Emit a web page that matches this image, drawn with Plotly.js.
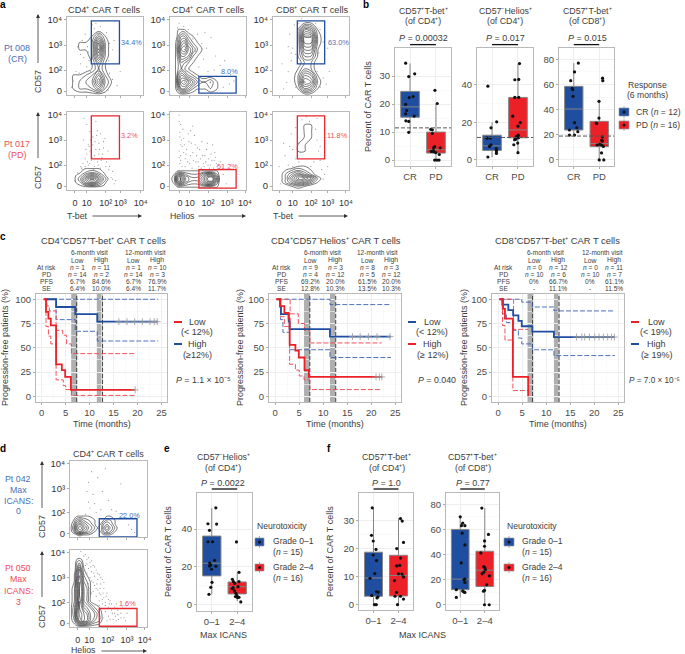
<!DOCTYPE html>
<html><head><meta charset="utf-8">
<script src="https://cdn.plot.ly/plotly-3.0.1.min.js"></script>
<style>html,body{margin:0;padding:0;background:#fff}</style></head>
<body><div id="chart" style="width:685px;height:654px"></div>
<script>
// ---------- values ----------
const flowGrid=[0,8.33,16.67,25,33.33,41.67,50,58.33,66.67,75,83.33,91.67,100];
const flowRows=flowGrid.slice().reverse();
const zero13="0000000000000", zero15="000000000000000";
// density tables, top row first
const a1Density=[zero13,zero13,zero13,"0000141000000","0011282000000","0011292000000","0000272000000","0000141000000","0000131000000","0112362000000","0123483100000","0122352000000",zero13];
const a2Cols=[0,8,11,15,19,24,30,36,42,47,53,60,100];
const a2Density=[zero13,zero13,"0011100000000","0024421000000","0136742100000","0148964210000","0136652100000","0124321000000","0123210000000","0146532100000","0158975322310","0136642111210",zero13];
const a3Density=[zero13,"0000011000000","0000165100000","0000199200000","0000188200000","0000166100000","0000144100000","0000022000000","0000132000000","0000265100000","0000287200000","0000154100000",zero13];
const a4Cols=[0,12,18,24,30,36,42,48,54,60,70,80,100], a4Rows=[100,32,27,22,18,14,10,6,3,0];
const a4Density=[zero13,zero13,"0001111000000","0012332100000","0124664200000","0136996310000","0125774200000","0012332100000",zero13,zero13];
const a5Cols=[0,6,10,14,20,28,36,44,50,56,62,66,100], a5Rows=[100,30,24,20,16,12,8,4,0];
const a5Density=[zero13,zero13,"0011111111100","0145322465200","0279533699400","0279533699400","0145322465200","0011111111100",zero13];
const a6Rows=[100,92,83,75,67,58,50,42,36,30,25,20,15,10,5,0];
const a6Density=[zero13,zero13,"0000011000000","0000011000000","0000011000000","0000110000000","0000110000000",zero13,zero13,"0000110000000","0012321000000","0024642000000","0026986200000","0024653100000","0001210000000",zero13];
const d1Cols=[0,5,9,13,17,24,32,36,40,44,48,52,58,64,100], d1Rows=[100,32,27,22,17,12,7,3,0];
const d1Density=[zero15,zero15,"001111000011000","013432100122100","025753101343100","037974211464200","025753101343100","001211000111000",zero15];
const d2Cols=[0,6,9,12,15,18,22,26,32,38,44,60,100];
const d2Density=[zero13,zero13,"0023200000000","0036310000000","0147521000000","0158632100000","0258743100000","0258743100000","0259743100000","0369865421000","0379987542000","0258987532000",zero13];
const a1Dots=[14,62,20,70,24,78,28,55,30,72,22,48,18,40,26,36,31,30,36,85,44,88,52,80,56,66,60,58,55,44,62,70,48,30,56,28,60,20,66,12,70,30,12,30,16,28,8,18,6,10,10,6,24,4,30,3,46,4,54,6,18,52,34,46,33,90,38,92,27,62,29,44];
const a2Dots=[12,92,18,88,24,84,30,72,36,78,42,66,48,60,54,74,60,50,66,38,44,46,38,36,72,44,50,30,58,32,30,48,34,56,10,86,80,26,70,10,78,14,84,18,62,24,46,80,8,70,22,42];
const a3Dots=[22,78,26,60,24,44,20,30,18,16,14,8,28,90,30,52,62,84,66,68,60,54,64,40,58,30,66,22,70,14,34,92,56,92,28,22,30,10,62,10,24,54,72,60,74,30,38,98,20,62,12,40];
const a4Dots=[22,92,26,84,30,75,34,68,38,88,42,60,44,72,48,54,30,50,36,44,40,36,24,40,28,32,46,42,52,36,56,30,60,24,18,30,14,22,34,58,50,66,38,52,42,46,32,38,36,30,44,28,48,62,54,50,28,58,22,64,26,46,64,12,62,8,10,12,20,26,40,76,30,34,33,42,35,26,41,32,37,62,29,56,43,52,45,38,25,52,27,36,39,70,31,64,47,46,51,30,55,26,21,34,19,28,58,16,60,14,24,30];
const a5Dots=[12,96,14,84,13,74,15,64,16,56,18,48,20,40,12,50,14,38,24,72,28,60,30,48,34,36,38,30,42,62,46,44,50,32,54,46,58,38,62,30,26,34,18,66,22,52,32,70,36,54,40,40,44,34,48,52,52,28,56,58,60,42,66,26,70,20,74,8,30,82,20,30,16,30,14,44,66,36,12,88,13,68,14,58,12,42,13,34,17,78,19,58,21,46,23,36,27,44,29,28,31,38,33,58,35,44,37,36,39,52,41,28,43,44,45,30,47,36,49,60,51,40,53,32,55,38,57,28,59,48,61,34,63,26,25,62,27,76];
const a6Dots=[14,60,16,44,20,32,24,72,26,52,30,40,30,80,34,60,36,48,38,90,44,94,48,88,56,78,58,64,60,50,62,38,64,26,66,14,68,20,12,14,10,8,28,28,54,36,50,30,34,36,22,56,26,30,62,56,72,30,58,92,8,30];
const d1Dots=[24,72,30,56,32,44,26,38,36,78,42,60,46,90,50,48,54,36,60,34,66,70,28,86,24,46,40,36,20,30,70,30,76,16,80,10,84,6,22,60,34,32];
const d2Dots=[14,98,18,92,22,88,26,84,30,80,34,74,38,68,42,62,16,86,20,80,24,76,28,72,32,66,36,62,40,56,44,50,48,44,28,60,32,54,36,48,40,42,44,38,30,46,34,40,38,34,24,56,26,50,28,44,42,30,46,28,50,26,54,22,58,18,62,16,66,12,56,10,60,8,50,14,52,34,60,30,68,26,74,18,46,20,44,12,38,28,72,8,20,94,24,90,28,86,32,78,36,70,40,64,44,58,18,74,22,70,26,64,30,58,34,50,38,44,42,36,46,32,50,36,54,30,58,26,62,22,22,82,27,78,31,70,35,56,39,50,43,44,47,40,51,30,55,18,59,14,63,10,66,18,70,12,48,8,52,10];
const gateA1=[32,69,40,95], gateA2=[38,87,2.5,24], gateA3=[32,68,40,95];
const gateA4=[32,69,40,95], gateA5=[38,87,2.5,26], gateA6=[32,68,40,95];
const gateD1=[38,87,0,24], gateD2=[38,87,1,24];
const flowY=[5,32,64,97], flowYText=["0","10²","10³","10⁴"];
const flowXText=["0","10","10²","10³","10⁴"];
const flowX1=[10.5,26,51,70,97], flowX2=[13,26,50,75,98.7], flowX3=[8,26,50,72,96], flowXd=[10,25,49,74,97];

const b1Ticks=[0,10,20,30], b2Ticks=[0,20,40], b3Ticks=[0,20,40,60,80];
const groupsB=["CR","PD"], groupsE=["0–1","2–4"];
const b1CR=[15.3,19,24.5,10,34.5], b1PD=[2.5,3.7,10,0,20];
const b2CR=[5.1,7.5,13.2,1.5,20], b2PD=[11.8,16,33.3,4,51];
const b3CR=[23.8,40.5,58.5,20,77], b3PD=[10.6,13,30.7,0,46.6];
const b1CRx=[-.17,.18,-.05,.12,-.03,-.17,-.13,-.17,.16,-.16,-.05,-.05], b1CRy=[34.6,30.8,29.8,22.7,22.3,19.9,17.7,16.5,15.7,14,13.8,9.9];
const b1PDx=[-.04,.05,-.2,-.14,-.14,-.05,-.09,.16,-.18,-.09,-.01,.13,-.05,.04,.12,-.1], b1PDy=[24.9,20.2,11,10.8,9.5,4.8,4.4,4.4,3.1,3,2.7,2,0,0,0,3.4];
const b2CRx=[-.16,.18,-.04,-.2,-.07,-.04,-.1,.16,.17,.17,.17,-.16], b2CRy=[39.3,20.3,17.1,11.6,11.6,8.1,7.2,6,5.1,4.2,3.5,1.6];
const b2PDx=[.06,-.12,.03,-.12,.03,-.2,.09,0,.01,-.06,-.13,-.08,-.01,-.16,0,.02], b2PDy=[51.3,42.7,42.9,33.3,33.3,23.3,19.9,18,13.2,12.5,10.8,11.1,9,8.1,3.9,11.9];
const b3CRx=[.18,.03,-.12,-.06,-.04,-.03,.03,.12,-.17,.16,-.17,.03], b3CRy=[77,70,63,57,55.8,50.5,29.6,25.6,23.8,22.5,19.8,19.8];
const b3PDx=[.13,.14,-.01,-.01,-.12,-.1,.12,.1,-.08,.09,.16,.09,0,.18,.12,.02], b3PDy=[65,63,46.6,33.3,29.4,29,18.3,15.6,11.9,11.9,10.8,5.6,0,0,15,12.5];

const kmX=[0,5,10,15,20,25], kmY=[0,25,50,75,100];
const c1LowX=[.4,.9,1.4,1.9,3,4.2,4.9,6.1,19.5], c1LowY=[100,87,80,73,33,27,20,6.7,6.7];
const c1LowUpX=[.4,1.1,1.6,3,4.4,5.2,6.2,19.5], c1LowUpY=[100,93,88,68,63,54,44,44];
const c1LowDnX=[.4,.9,1.4,1.9,3,4.5,5,6.2,19.5], c1LowDnY=[100,72,62,54,17,11,7,1,1];
const c1HighX=[.7,3,7,11.6,24.3], c1HighY=[100,92,84.6,76.9,76.9];
const c1HighUpX=[.7,24.3], c1HighUpY=[100,100];
const c1HighDnX=[.7,3,7,11.6,24.3], c1HighDnY=[100,79,67,57,57];
const c1CensorHigh=[16.1,17.8,19.4,21,22.6,23.5,24.1], c1CensorLow=[19.5];
const c2LowX=[.5,1,1.2,2.8,3,11.4,24.1], c2LowY=[100,92.3,84.6,76.9,69.2,61.5,61.5];
const c2LowUpX=[.5,11.4,24.1], c2LowUpY=[100,94.5,94.5];
const c2LowDnX=[.5,1.1,1.6,3,11.4,24.1], c2LowDnY=[100,79,66,48,40,40];
const c2HighX=[.2,1.1,1.9,2.8,3,4.2,4.9,6.1,7,22.2], c2HighY=[100,93,86,80,53,47,40,27,20,20];
const c2HighUpX=[.2,3.1,4.8,6.1,7.2,22.2], c2HighUpY=[100,85,75,68,55,55];
const c2HighDnX=[.2,1.1,1.9,3,4.2,5,6,7.2,22.2], c2HighDnY=[100,82,72,33,27,21,17,7,7];
const c2CensorLow=[16.1,17.7,19.4,21.2,23.9], c2CensorHigh=[21,21.7,22.2];
const c3HighX=[.5,.85,2.1,3.1,4.2,4.9,7.1,11.6,24.3], c3HighY=[100,94.4,88.9,83.3,77.8,72.2,66.7,61.1,61.1];
const c3HighUpX=[.5,4.9,7.1,11.6,24.3], c3HighUpY=[100,97,92,88,88];
const c3HighDnX=[.5,.85,1.7,3.1,4.2,4.9,7.1,11.6,24.3], c3HighDnY=[100,85,76,68,60,54,48,42,42];
const c3LowX=[.2,1,1.4,3.05,6.25,6.25], c3LowY=[100,90,80,20,0,0];
const c3LowUpX=[.2,3.2,6.25], c3LowUpY=[100,69,69];
const c3LowDnX=[.2,.9,1.4,3.05,6.25], c3LowDnY=[100,73,58,6,6];
const c3CensorHigh=[16.3,17.4,18,19,20.1,21,21.9,22.8,23.6,24.2];

const e1Ticks=[0,20,40], f1Ticks=[0,10,20,30], f2Ticks=[0,20,40,60,80];
const eLow=[15.3,22,36.3,5.5,51], eHigh=[5.8,9.6,12.1,2,17];
const f1Low=[3,9.5,18.7,0,34.5], f1High=[3.1,10.4,17.6,0,30.8];
const f2Low=[12,20.4,60,5.8,70], f2High=[14.5,27.5,42.6,0,77];
const eLowX=[.16,-.15,.19,-.09,-.15,.03,.11,-.08,-.04,.16,-.09,-.01,.01,-.04,-.11], eLowY=[51.2,42.8,42.6,39.3,33.3,33.3,23.5,22.1,21,20.4,20.5,18.8,11.9,9.3,5.6];
const eHighX=[-.03,.07,-.19,-.15,.07,-.1,.03,-.2,-.11,-.05,-.01,.01,-.07,.07,.14,-.16], eHighY=[33.2,17.2,13.5,12.3,12.3,11.4,9.6,8.6,7.4,6.1,4.9,3.9,4.4,4,1.6,9.1];
const f1LowX=[-.05,-.08,-.01,.1,-.01,.12,.05,-.14,.12,.19,-.07,.18,.14,.04,.11], f1LowY=[34.5,24.7,22.7,19.7,17.7,15.7,11.1,9.4,4.6,4.5,3.3,2.8,2.4,0,0];
const f1HighX=[.08,.15,.2,-.07,.08,.05,-.07,.14,.2,-.16,-.08,-.14,.08,.2,-.04,.0], f1HighY=[30.7,29.8,22.2,20,16.6,14,13.8,10.9,9.9,8.6,4.4,3,3,2,0,11];
const f2LowX=[0,.1,.05,.19,.08,.19,.04,.19,.15,.19,-.16,.1,.14,.19,-.16], f2LowY=[70,65,63,63,57,47.6,33.3,20.4,19.8,17.7,12,11,10.3,9.8,5.8];
const f2HighX=[-.12,.15,-.01,-.01,-.16,-.04,0,-.04,-.11,.19,.08,-.01,-.05,-.01,.18,.03], f2HighY=[77,56,50.8,46.6,41.3,30.4,29.6,25.9,24.6,23,15.9,11.4,10.8,0,0,28];

const W=685,H=654,BLUE="#1f4ea1",RED="#ec2027",LBLUE="#4a70b8",LRED="#ef4c56",FRAME="#b9b9b9",TXT="#3c3c3c",FONT="Liberation Sans, Arial, sans-serif";
const traces=[],ann=[],shapes=[];
const layout={width:W,height:H,margin:{l:0,r:0,t:0,b:0},paper_bgcolor:"#fff",plot_bgcolor:"#fff",showlegend:false,hovermode:false,font:{family:FONT,color:TXT,size:9},annotations:ann,shapes:shapes};
let axN=0;
const px=x=>x/W, py=y=>1-y/H;
function T(text,x,y,o={}){ann.push({text,x:px(x),y:py(y),xref:"paper",yref:"paper",showarrow:false,xanchor:o.a||"center",yanchor:"middle",textangle:o.rot||0,font:{family:FONT,size:o.s||9.5,color:o.c||TXT}});}
function arrow(x0,y0,x1,y1){ann.push({text:" ",x:px(x1),y:py(y1),xref:"paper",yref:"paper",ax:x0-x1,ay:y0-y1,axref:"pixel",ayref:"pixel",showarrow:true,arrowhead:2,arrowsize:1,arrowwidth:.8,arrowcolor:"#333",font:{size:1}});}
function addAxes(x0,x1,y0,y1,xa,ya){axN++;const s=axN===1?"":axN;
  const base={showline:true,mirror:true,linecolor:FRAME,linewidth:1,zeroline:false,ticks:"outside",ticklen:2,tickwidth:.7,tickcolor:"#888",tickangle:0,tickfont:{family:FONT,size:9.5,color:"#4a4a4a"},tickmode:"array"};
  layout["xaxis"+s]=Object.assign({},base,{domain:[px(x0),px(x1)],anchor:"y"+s},xa);
  layout["yaxis"+s]=Object.assign({},base,{domain:[py(y1),py(y0)],anchor:"x"+s},ya);
  return {x:"x"+s,y:"y"+s};}
function flow(box,density,dots,gate,gcolor,xt,showX,cols,rows){
  cols=cols||flowGrid;rows=rows||flowRows;
  const a=addAxes(box[0],box[1],box[2],box[3],{range:[0,100],tickvals:xt,ticktext:flowXText,showticklabels:showX,ticklabelstandoff:2,showgrid:false,tickfont:{family:FONT,size:9,color:"#333"}},{range:[0,100],tickvals:flowY,ticktext:flowYText,showgrid:false,tickfont:{family:FONT,size:9.5,color:"#333"}});
  const dx=dots.filter((_,i)=>i%2===0),dy=dots.filter((_,i)=>i%2===1);
  traces.push({type:"scatter",mode:"markers",x:dx,y:dy,xaxis:a.x,yaxis:a.y,marker:{size:1.2,color:"#999"}});
  traces.push({type:"contour",x:cols,y:rows.slice().reverse(),z:density.slice().reverse().map(r=>[...r].map(Number)),xaxis:a.x,yaxis:a.y,autocontour:false,contours:{coloring:"none",start:.9,end:9.5,size:1},line:{color:"#222",width:.6,smoothing:1},showscale:false});
  shapes.push({type:"rect",xref:a.x,yref:a.y,x0:gate[0],x1:gate[1],y0:gate[2],y1:gate[3],line:{color:gcolor,width:1.3}});
}
function boxPanel(box,yr,yt,xr,labels,s1,s2,p1,p2,hline){
  const a=addAxes(box[0],box[1],box[2],box[3],{range:xr,tickvals:[0,1],ticktext:labels,showgrid:true,gridcolor:"#eeeeee"},{range:yr,tickvals:yt,ticktext:yt.map(String),showgrid:true,gridcolor:"#eeeeee",minor:{showgrid:true,gridcolor:"#f5f5f5",gridwidth:.6,tickvals:yt.slice(0,-1).map((v,i)=>(v+yt[i+1])/2),ticks:""}});
  [[s1,BLUE,0],[s2,RED,1]].forEach(([s,c,pos])=>traces.push({type:"box",x:[pos],q1:[s[0]],median:[s[1]],q3:[s[2]],lowerfence:[s[3]],upperfence:[s[4]],width:.72,whiskerwidth:0,fillcolor:c,line:{color:"#858585",width:1},boxpoints:false,xaxis:a.x,yaxis:a.y}));
  [[p1,0],[p2,1]].forEach(([p,pos])=>traces.push({type:"scatter",mode:"markers",x:p[0].map(v=>v+pos),y:p[1],xaxis:a.x,yaxis:a.y,marker:{size:3.2,color:"#111"}}));
  if(hline!==undefined) traces.push({type:"scatter",mode:"lines",x:xr,y:[hline,hline],xaxis:a.x,yaxis:a.y,line:{color:"#555",width:1,dash:"4px,2px"}});
  return a;}
function sig(a,y){shapes.push({type:"line",xref:a.x,yref:"paper",x0:0,x1:1,y0:py(y),y1:py(y),line:{color:"#111",width:1.3}});}
function swatch(x0,x1,y0,y1,c){
  const xm=(x0+x1)/2,ym=(y0+y1)/2;
  shapes.push({type:"line",xref:"paper",yref:"paper",x0:px(xm),x1:px(xm),y0:py(y0-2),y1:py(y1+2),line:{color:"#999",width:.8}});
  shapes.push({type:"rect",xref:"paper",yref:"paper",x0:px(x0),x1:px(x1),y0:py(y0),y1:py(y1),fillcolor:c,line:{color:"#999",width:.7}});
  shapes.push({type:"circle",xref:"paper",yref:"paper",x0:px(xm-1.5),x1:px(xm+1.5),y0:py(ym-1.5),y1:py(ym+1.5),fillcolor:"#111",line:{width:0}});
}
function km(box,r0,series,bands,dash){
  const a=addAxes(box[0],box[1],box[2],box[3],{range:r0,tickvals:kmX,ticktext:kmX.map(String),showgrid:true,gridcolor:"#eeeeee",minor:{showgrid:true,gridcolor:"#f6f6f6",gridwidth:.6,tickvals:[2.5,7.5,12.5,17.5,22.5],ticks:""}},{range:[-5.8,105.4],tickvals:kmY,ticktext:kmY.map(String),showgrid:true,gridcolor:"#eeeeee",minor:{showgrid:true,gridcolor:"#f6f6f6",gridwidth:.6,tickvals:[12.5,37.5,62.5,87.5],ticks:""}});
  bands.forEach(b=>shapes.push({type:"rect",xref:a.x,yref:"y"+a.y.slice(1)+" domain",x0:b[0],x1:b[1],y0:0,y1:1,fillcolor:"#aeb0b0",line:{width:0},layer:"below"}));
  dash.forEach(v=>traces.push({type:"scatter",mode:"lines",x:[v,v],y:[-5.8,105.4],xaxis:a.x,yaxis:a.y,line:{color:"#444",width:1,dash:"4px,2px"}}));
  series.forEach(s=>{
    if(s.ci) traces.push({type:"scatter",mode:"lines",x:s.x,y:s.y,xaxis:a.x,yaxis:a.y,line:{shape:"hv",color:s.c,width:.9,dash:"5px,2px"}});
    else traces.push({type:"scatter",mode:"lines",x:s.x,y:s.y,xaxis:a.x,yaxis:a.y,line:{shape:"hv",color:s.c,width:1.8}});
    if(s.cen) traces.push({type:"scatter",mode:"markers",x:s.cen,y:s.cen.map(()=>s.y[s.y.length-1]),xaxis:a.x,yaxis:a.y,marker:{symbol:"cross-thin-open",size:5,color:"#999",line:{color:"#999",width:.8}}});
  });
  return a;}
function kmHead(title,tx,vis,cols,atx,rows){
  T(title,tx,240,{s:9.4});
  T("6-month visit",vis[0],252,{s:6.5}); T("12-month visit",vis[1],252,{s:6.5});
  cols.forEach((c,i)=>T(i%2?"High":"Low",c,260,{s:6.8}));
  ["At risk","PD","PFS","SE"].forEach((r,i)=>T(r,atx,267+i*7,{s:6.6}));
  rows.forEach((row,i)=>row.forEach((v,j)=>T(v,cols[j],267+i*7,{s:6.6})));
}
const N=v=>"<i>n</i> = "+v;

T("<b>a</b>",3,4,{s:10,c:"#000"});
["CD4⁺ CAR T cells","CD4⁺ CAR T cells","CD8⁺ CAR T cells"].forEach((t,i)=>T(t,[104,208,312][i],10,{s:9.2}));
flow([67,143,17,95],a1Density,a1Dots,gateA1,BLUE,flowX1,false);
flow([170,246,17,95],a2Density,a2Dots,gateA2,BLUE,flowX2,false,a2Cols);
flow([273,349,17,95],a3Density,a3Dots,gateA3,BLUE,flowX3,false);
flow([67,143,112,190],a4Density,a4Dots,gateA4,"#e8262d",flowX1,true,a4Cols,a4Rows);
flow([170,246,112,190],a5Density,a5Dots,gateA5,"#e8262d",flowX2,true,a5Cols,a5Rows);
flow([273,349,112,190],a6Density,a6Dots,gateA6,"#e8262d",flowX3,true,flowGrid,a6Rows);
T("34.4%",131,42,{s:7.3,c:LBLUE});T("8.0%",229,71,{s:7.3,c:LBLUE});T("63.0%",338,42,{s:7.3,c:LBLUE});
T("3.2%",129,136,{s:7.3,c:LRED});T("51.2%",227,166,{s:7.3,c:LRED});T("11.8%",337,136,{s:7.3,c:LRED});
T("Pt 008",17,48,{c:LBLUE,s:9});T("(CR)",17,59,{c:LBLUE,s:9});T("Pt 017",17,144,{c:LRED,s:9});T("(PD)",17,155,{c:LRED,s:9});
T("CD57",38,82,{rot:-90,s:9});T("CD57",38,178,{rot:-90,s:9});
arrow(38,65,38,14);arrow(38,160,38,112);
T("T-bet",77,216,{s:8.8});arrow(91,216,142,216);
T("Helios",183,216,{s:8.8});arrow(197,216,246,216);
T("T-bet",283,216,{s:8.8});arrow(297,216,348,216);

T("<b>b</b>",366,4,{s:10,c:"#000"});
const bX=[-.58,1.58];
const b1=boxPanel([395,451,48,166],[-2.1,40],b1Ticks,bX,groupsB,b1CR,b1PD,[b1CRx,b1CRy],[b1PDx,b1PDy],11.5);
const b2=boxPanel([477,533,48,166],[-3.2,59.6],b2Ticks,bX,groupsB,b2CR,b2PD,[b2CRx,b2CRy],[b2PDx,b2PDy],12);
const b3=boxPanel([559,614,48,166],[-4.8,89],b3Ticks,bX,groupsB,b3CR,b3PD,[b3CRx,b3CRy],[b3PDx,b3PDy],19);
[b1,b2,b3].forEach(a=>sig(a,44.6));
[[423,"CD57⁺T-bet⁺","(of CD4⁺)","<i>P</i> = 0.00032"],[505,"CD57⁻Helios⁺","(of CD4⁺)","<i>P</i> = 0.017"],[587,"CD57⁺T-bet⁺","(of CD8⁺)","<i>P</i> = 0.015"]].forEach(r=>{T(r[1],r[0],11,{s:8.8});T(r[2],r[0],21,{s:8.8});T(r[3],r[0],38,{s:9});});
T("Percent of CAR T cells",368,107,{rot:-90,s:9});
T("Response",647,85,{s:8.6});T("(6 months)",647,95,{s:8.6});
swatch(619,629,108,116,BLUE);swatch(619,629,121,129,RED);
T("CR (<i>n</i> = 12)",634,112,{a:"left",s:8.6});T("PD (<i>n</i> = 16)",634,125,{a:"left",s:8.6});

T("<b>c</b>",3,237,{s:10,c:"#000"});
km([36,167,294,402],[-1.19,26.15],[
 {x:c1HighUpX,y:c1HighUpY,c:"#3b62b5",ci:1},{x:c1HighDnX,y:c1HighDnY,c:"#3b62b5",ci:1},
 {x:c1LowUpX,y:c1LowUpY,c:"#f0414b",ci:1},{x:c1LowDnX,y:c1LowDnY,c:"#f0414b",ci:1},
 {x:c1HighX,y:c1HighY,c:BLUE,cen:c1CensorHigh},{x:c1LowX,y:c1LowY,c:RED,cen:c1CensorLow}],[[6.15,7.4],[11.5,12.75]],[7.3,12.7]);
kmHead("CD4⁺CD57⁺T-bet⁺ CAR T cells",103,[89,145],[77,101,133,157],46,[
 [N(1),N(11),N(1),N(10)],[N(14),N(2),N(14),N(3)],["6.7%","84.6%","6.7%","76.9%"],["6.4%","10.0%","6.4%","11.7%"]]);
km([269,401,294,402],[-1.3,26.2],[
 {x:c2LowUpX,y:c2LowUpY,c:"#3b62b5",ci:1},{x:c2LowDnX,y:c2LowDnY,c:"#3b62b5",ci:1},
 {x:c2HighUpX,y:c2HighUpY,c:"#f0414b",ci:1},{x:c2HighDnX,y:c2HighDnY,c:"#f0414b",ci:1},
 {x:c2LowX,y:c2LowY,c:BLUE,cen:c2CensorLow},{x:c2HighX,y:c2HighY,c:RED,cen:c2CensorHigh}],[[6,7.25],[11.4,12.65]],[7.2,12.6]);
kmHead("CD4⁺CD57⁻Helios⁺ CAR T cells",336,[322,377],[310,335,367,391],281,[
 [N(9),N(3),N(8),N(3)],[N(4),N(12),N(5),N(12)],["69.2%","20.0%","61.5%","20.0%"],["12.8%","10.3%","13.5%","10.3%"]]);
km([492,624,294,402],[-1.3,26.2],[
 {x:c3HighUpX,y:c3HighUpY,c:"#3b62b5",ci:1},{x:c3HighDnX,y:c3HighDnY,c:"#3b62b5",ci:1},
 {x:c3LowUpX,y:c3LowUpY,c:"#f0414b",ci:1},{x:c3LowDnX,y:c3LowDnY,c:"#f0414b",ci:1},
 {x:c3HighX,y:c3HighY,c:BLUE,cen:c3CensorHigh},{x:c3LowX,y:c3LowY,c:RED}],[[6.1,7.3],[11.6,12.75]],[7.15,12.65]);
kmHead("CD8⁺CD57⁺T-bet⁺ CAR T cells",557,[545,602],[534,558,590,614],503,[
 [N(0),N(12),N(0),N(11)],[N(10),N(6),N(10),N(7)],["0%","66.7%","0%","61.1%"],["-","11.1%","-","11.5%"]]);
[[5,102],[240,335],[464,558]].forEach(p=>{T("Progression-free patients (%)",p[0],348,{rot:-90,s:9});T("Time (months)",p[1],424,{s:9});});
function kmLegend(sx,lx,c1,c2,t1,t2,t3,t4,pText,pX,ps){
  [[322,c1],[344,c2]].forEach(([y,c])=>shapes.push({type:"line",xref:"paper",yref:"paper",x0:px(sx),x1:px(sx+8),y0:py(y),y1:py(y),line:{color:c,width:2}}));
  T(t1,lx,322,{s:9});T(t2,lx,332,{s:9});T(t3,lx,344,{s:9});T(t4,lx,355,{s:9});
  T(pText,pX,380,{a:"left",s:ps||8.8});
}
kmLegend(174,197,RED,BLUE,"Low","(&lt; 12%)","High","(≥12%)","<i>P</i> = 1.1 × 10⁻⁵",174);
kmLegend(408,432,BLUE,RED,"Low","(&lt; 12%)","High","(≥ 12%)","<i>P</i> = 0.040",416);
kmLegend(631,656,RED,BLUE,"Low","(&lt; 19%)","High","(≥ 19%)","<i>P</i> = 7.0 × 10⁻⁵",627,8.2);

T("<b>d</b>",3,448,{s:10,c:"#000"});
T("CD4⁺ CAR T cells",108,454,{s:9});
flow([70,147,461,537],d1Density,d1Dots,gateD1,BLUE,flowXd,false,d1Cols,d1Rows);
flow([70,147,550,627],d2Density,d2Dots,gateD2,"#e8262d",flowXd,true,d2Cols);
T("22.0%",129,515,{s:7.3,c:LBLUE});T("1.6%",127,603,{s:7.3,c:LRED});
["Pt 042","Max","ICANS:","0"].forEach((t,i)=>T(t,18,[479,490,501,511][i],{c:LBLUE,s:8.8}));
["Pt 050","Max","ICANS:","3"].forEach((t,i)=>T(t,18,[568,579,591,602][i],{c:LRED,s:8.8}));
T("CD57",42,527,{rot:-90,s:9});T("CD57",42,617,{rot:-90,s:9});
arrow(42,510,42,461);arrow(42,599,42,551);
T("Helios",83,650,{s:8.8});arrow(100,651,147,651);

T("<b>e</b>",167,448,{s:10,c:"#000"});T("<b>f</b>",329,448,{s:10,c:"#000"});
const e1=boxPanel([197,252,493,611],[-3.2,59],e1Ticks,bX,groupsE,eLow,eHigh,[eLowX,eLowY],[eHighX,eHighY]);
const f1=boxPanel([359,413,493,610],[-1.9,39.8],f1Ticks,bX,groupsE,f1Low,f1High,[f1LowX,f1LowY],[f1HighX,f1HighY]);
const f2=boxPanel([446,499,493,610],[-4.2,89],f2Ticks,bX,groupsE,f2Low,f2High,[f2LowX,f2LowY],[f2HighX,f2HighY]);
[e1,f1,f2].forEach(a=>sig(a,489));
[[223,"CD57⁻Helios⁺","(of CD4⁺)","<i>P</i> = 0.0022"],[387,"CD57⁺T-bet⁺","(of CD4⁺)","<i>P</i> = 1.0"],[473,"CD57⁺T-bet⁺","(of CD8⁺)","<i>P</i> = 0.77"]].forEach(r=>{T(r[1],r[0],457,{s:8.8});T(r[2],r[0],468,{s:8.8});T(r[3],r[0],483,{s:9});});
T("Percent of CAR T cells",168,552,{rot:-90,s:9});T("Percent of CAR T cells",330,552,{rot:-90,s:9});
T("Max ICANS",223,635,{s:9});T("Max ICANS",422,635,{s:9});
[[282,255,264,271],[532,504,514,520]].forEach(r=>{
  T("Neurotoxicity",r[0],526,{s:8.6});
  swatch(r[1],r[2],538,546,BLUE);swatch(r[1],r[2],564,571,RED);
  T("Grade 0–1",r[3],541,{a:"left",s:8.6});T("(<i>n</i> = 15)",r[3],552,{a:"left",s:8.6});
  T("Grade 2–4",r[3],567,{a:"left",s:8.6});T("(<i>n</i> = 16)",r[3],578,{a:"left",s:8.6});
});

Plotly.newPlot("chart",traces,layout,{displayModeBar:false,staticPlot:true,responsive:false});
</script></body></html>
